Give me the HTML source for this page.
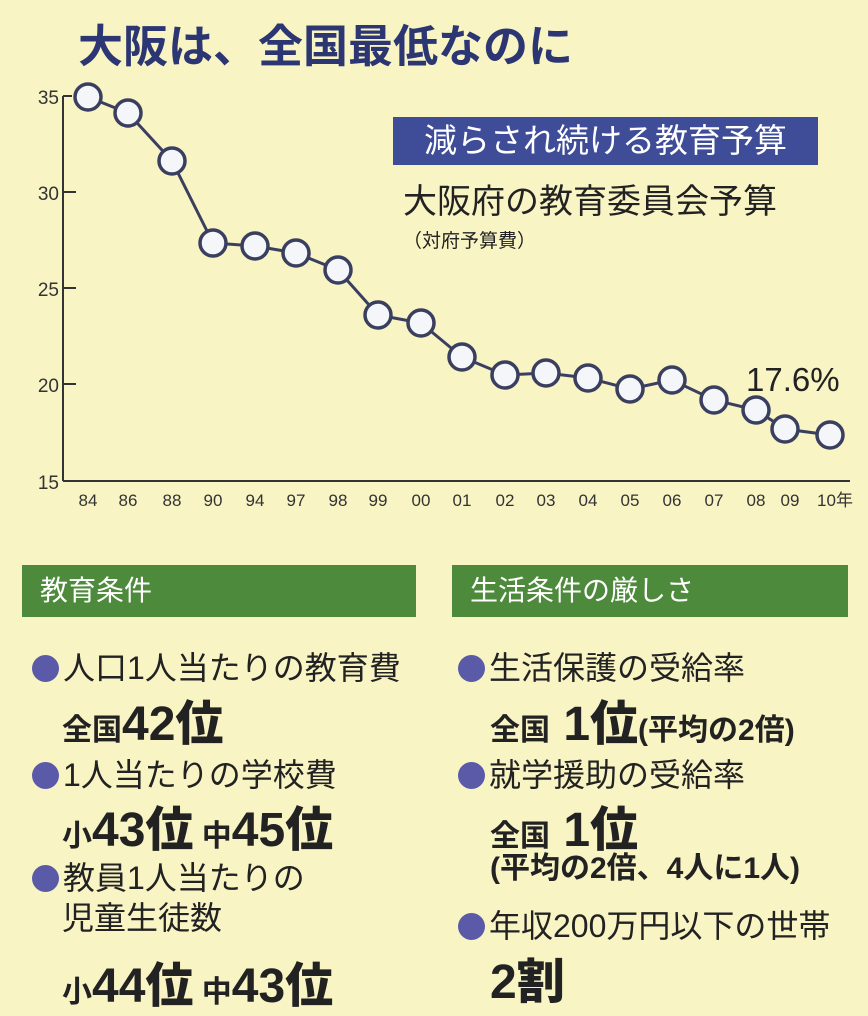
<!DOCTYPE html>
<html><head><meta charset="utf-8"><style>
body{margin:0;width:868px;height:1006px;background:#f8f4c4;overflow:hidden;position:relative;font-family:"Liberation Sans","Noto Sans CJK JP",sans-serif;color:#222}
.a{position:absolute;white-space:nowrap}
.g{background:#4e8a3c;color:#fff;font-size:28px;height:52px;line-height:52px;padding-left:18px;box-sizing:border-box}
.b{display:inline-block;width:27px;height:27px;border-radius:50%;background:#5a5aa8;vertical-align:-3px;margin-right:4px}
.t{font-size:32px}
.big{font-weight:bold;font-size:30px}
.big b{font-size:48px}
</style></head><body>
<div class="a" style="left:78px;top:10px;font-size:45px;font-weight:bold;color:#2b3672">大阪は、全国最低なのに</div>
<svg class="a" style="left:0;top:0" width="868" height="520">
<g stroke="#333" stroke-width="2" fill="none">
<line x1="63" y1="96" x2="63" y2="481"/><line x1="63" y1="481" x2="850" y2="481"/>
<line x1="63" y1="96" x2="72" y2="96"/><line x1="63" y1="192" x2="76" y2="192"/><line x1="63" y1="288" x2="76" y2="288"/><line x1="63" y1="384" x2="76" y2="384"/>
</g>
<g font-size="19" fill="#333" text-anchor="end"><text x="59" y="104">35</text><text x="59" y="200">30</text><text x="59" y="296">25</text><text x="59" y="392">20</text><text x="59" y="489">15</text></g>
<g font-size="17" fill="#333" text-anchor="middle">
<text x="88" y="506">84</text><text x="128" y="506">86</text><text x="172" y="506">88</text><text x="213" y="506">90</text><text x="255" y="506">94</text><text x="296" y="506">97</text><text x="338" y="506">98</text><text x="378" y="506">99</text><text x="421" y="506">00</text><text x="462" y="506">01</text><text x="505" y="506">02</text><text x="546" y="506">03</text><text x="588" y="506">04</text><text x="630" y="506">05</text><text x="672" y="506">06</text><text x="714" y="506">07</text><text x="756" y="506">08</text><text x="790" y="506">09</text><text x="835" y="506">10年</text></g>
<polyline fill="none" stroke="#3a3f60" stroke-width="3" points="88,97 128,113 172,161 213,243 255,246 296,253 338,270 378,315 421,323 462,357 505,375 546,373 588,378 630,389 672,380 714,400 756,410 785,429 830,435"/>
<g fill="#f4f6fa" stroke="#3a3f60" stroke-width="3.5">
<circle cx="88" cy="97" r="13"/><circle cx="128" cy="113" r="13"/><circle cx="172" cy="161" r="13"/><circle cx="213" cy="243" r="13"/><circle cx="255" cy="246" r="13"/><circle cx="296" cy="253" r="13"/><circle cx="338" cy="270" r="13"/><circle cx="378" cy="315" r="13"/><circle cx="421" cy="323" r="13"/><circle cx="462" cy="357" r="13"/><circle cx="505" cy="375" r="13"/><circle cx="546" cy="373" r="13"/><circle cx="588" cy="378" r="13"/><circle cx="630" cy="389" r="13"/><circle cx="672" cy="380" r="13"/><circle cx="714" cy="400" r="13"/><circle cx="756" cy="410" r="13"/><circle cx="785" cy="429" r="13"/><circle cx="830" cy="435" r="13"/></g>
<text x="746" y="391" font-size="33" fill="#222">17.6%</text>
</svg>
<div class="a" style="left:393px;top:117px;width:425px;height:48px;background:#3f4c98;color:#fff;font-size:33px;line-height:48px;text-align:center">減らされ続ける教育予算</div>
<div class="a" style="left:403px;top:174px;font-size:34px">大阪府の教育委員会予算</div>
<div class="a" style="left:403px;top:226px;font-size:19px">（対府予算費）</div>
<div class="a g" style="left:22px;top:565px;width:394px">教育条件</div>
<div class="a g" style="left:452px;top:565px;width:396px">生活条件の厳しさ</div>
<div class="a t" style="left:32px;top:643px"><span class="b"></span>人口1人当たりの教育費</div>
<div class="a big" style="left:62px;top:684px">全国<b>42位</b></div>
<div class="a t" style="left:32px;top:750px"><span class="b"></span>1人当たりの学校費</div>
<div class="a big" style="left:62px;top:790px">小<b>43位</b> 中<b>45位</b></div>
<div class="a t" style="left:32px;top:853px"><span class="b"></span>教員1人当たりの</div>
<div class="a t" style="left:62px;top:893px">児童生徒数</div>
<div class="a big" style="left:62px;top:946px">小<b>44位</b> 中<b>43位</b></div>
<div class="a t" style="left:458px;top:643px"><span class="b"></span>生活保護の受給率</div>
<div class="a big" style="left:490px;top:684px">全国<b> 1位</b>(平均の2倍)</div>
<div class="a t" style="left:458px;top:750px"><span class="b"></span>就学援助の受給率</div>
<div class="a big" style="left:490px;top:790px">全国<b> 1位</b></div>
<div class="a big" style="left:490px;top:843px">(平均の2倍、4人に1人)</div>
<div class="a t" style="left:458px;top:901px"><span class="b"></span>年収200万円以下の世帯</div>
<div class="a big" style="left:490px;top:942px"><b>2割</b></div>
</body></html>
